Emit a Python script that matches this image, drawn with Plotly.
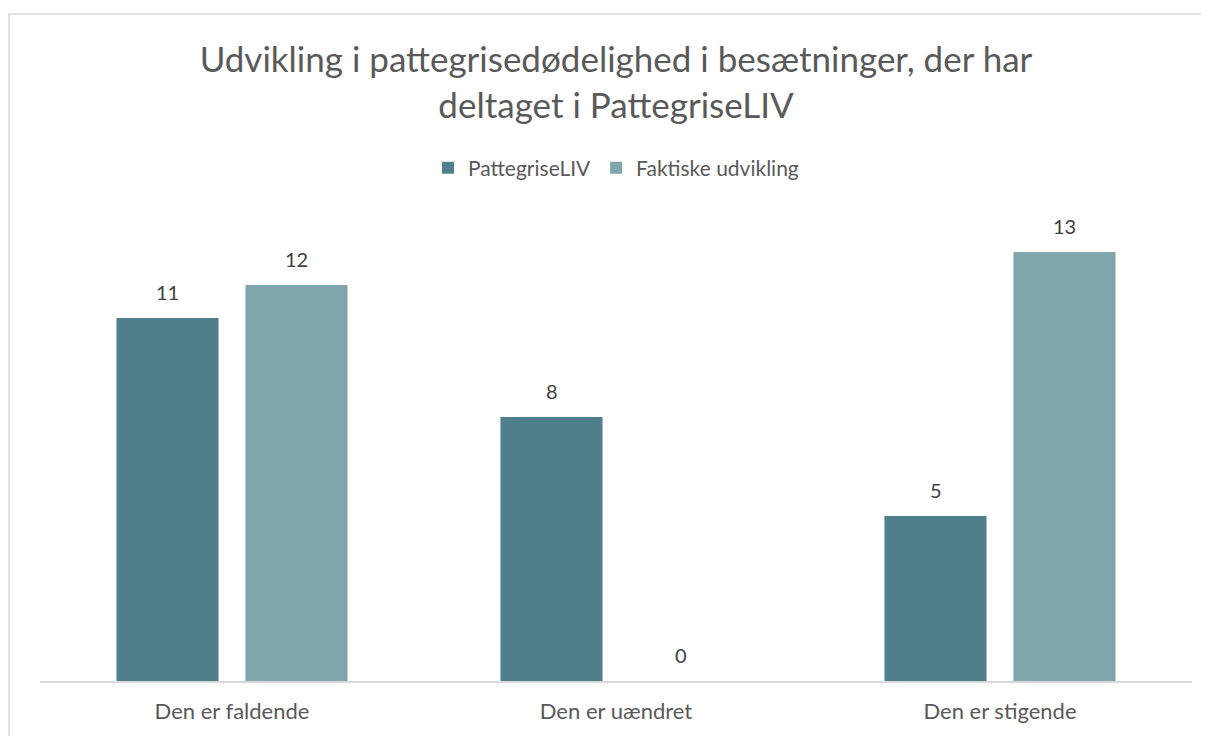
import plotly.graph_objects as go

categories = ["Den er faldende", "Den er uændret", "Den er stigende"]
series_names = ["PattegriseLIV", "Faktiske udvikling"]
pattegriseliv = [11, 8, 5]
faktiske = [12, 0, 13]
colors = ["#4F7F8B", "#7FA5AD"]
title_text = "Udvikling i pattegrisedødelighed i besætninger, der har<br>deltaget i PattegriseLIV"

# page body has an 8px margin; work in screen coords and subtract it
OFF = 8
SW, SH = 1209, 736
W, H = SW - OFF, SH - OFF
L, R, T, B = 40 - OFF, SW - 1192, 219 - OFF, SH - 683
plot_w = W - L - R
plot_h = H - T - B

fig = go.Figure()
for name, vals, col in zip(series_names, [pattegriseliv, faktiske], colors):
    fig.add_trace(go.Bar(x=categories, y=vals, name=name, marker_color=col,
                         marker_line_width=0))

font = "Lato, 'Open Sans', sans-serif"
slot = 129
for i, vals in enumerate([pattegriseliv, faktiske]):
    shift = -slot / 2 if i == 0 else slot / 2
    for c, v in zip(categories, vals):
        fig.add_annotation(x=c, y=v, xref="x", yref="y", text=str(v),
                           showarrow=False, xshift=shift, yshift=12,
                           yanchor="bottom",
                           font=dict(family=font, size=20, color="#404040"))

# outer border (screen x=9, y=13)
fig.add_shape(type="rect", xref="paper", yref="paper",
              x0=(9 - 40) / plot_w, x1=(SW + 20 - 40) / plot_w,
              y0=-(60) / plot_h, y1=(683 - 13) / plot_h,
              line=dict(color="#D9D9D9", width=1.5), fillcolor="rgba(0,0,0,0)",
              layer="below")

fig.update_layout(
    width=W, height=H,
    margin=dict(l=L, r=R, t=T, b=B),
    paper_bgcolor="white", plot_bgcolor="white",
    barmode="group", bargap=0.328, bargroupgap=0.209,
    title=dict(text=title_text, x=(616 - OFF) / W, xanchor="center",
               y=1 - (72 - OFF) / H, yanchor="middle",
               font=dict(family=font, size=35, color="#595959")),
    legend=dict(orientation="h", x=(616 - 40) / plot_w, xanchor="center",
                y=(683 - 168) / plot_h, yref="paper", yanchor="middle",
                font=dict(family=font, size=21, color="#595959"),
                traceorder="normal"),
    xaxis=dict(showline=True, linecolor="#D9D9D9", linewidth=1.5, ticks="",
               tickfont=dict(family=font, size=22, color="#595959"),
               ticklabelstandoff=10, showgrid=False),
    yaxis=dict(range=[0, 14], visible=False, showgrid=False, zeroline=False),
)

fig.write_html("out.html")
